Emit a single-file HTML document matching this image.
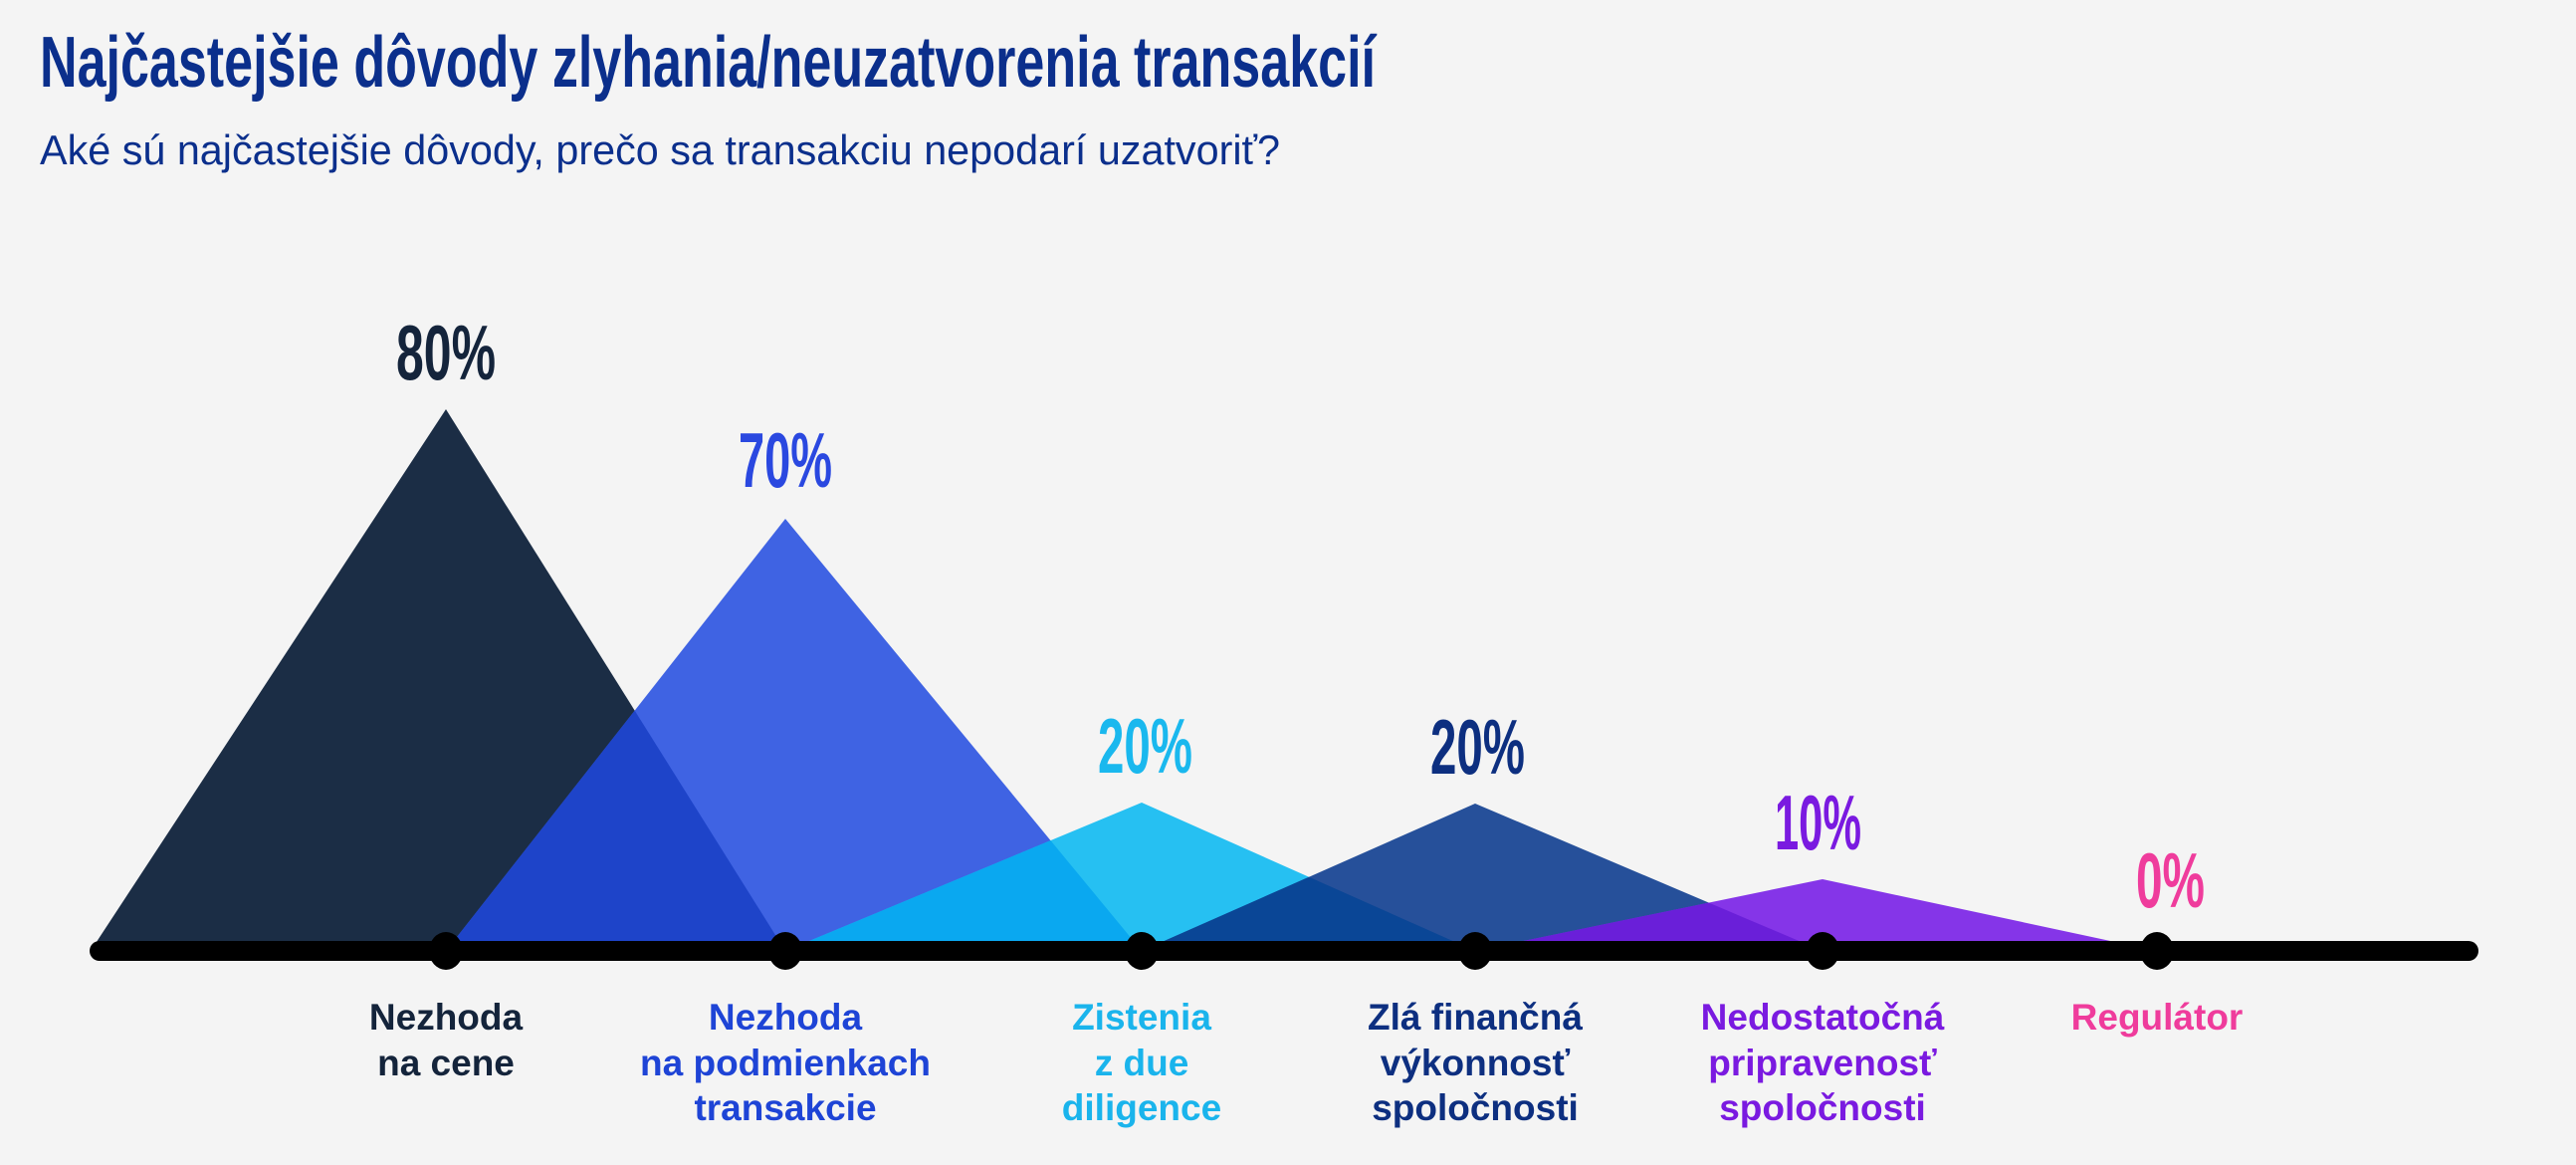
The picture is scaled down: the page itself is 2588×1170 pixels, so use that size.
<!DOCTYPE html>
<html><head><meta charset="utf-8"><style>html,body{margin:0;padding:0;background:#f4f4f4}svg{display:block}</style></head>
<body>
<svg width="2588" height="1170" viewBox="0 0 2588 1170" xmlns="http://www.w3.org/2000/svg" font-family="'Liberation Sans', sans-serif">
<rect width="2588" height="1170" fill="#f4f4f4"/>
<text x="40" y="87" font-size="72" font-weight="bold" fill="#0b2f8c" textLength="1342" lengthAdjust="spacingAndGlyphs">Najčastejšie dôvody zlyhania/neuzatvorenia transakcií</text>
<text x="40" y="165" font-size="42" fill="#0b2f8c" textLength="1246" lengthAdjust="spacingAndGlyphs">Aké sú najčastejšie dôvody, prečo sa transakciu nepodarí uzatvoriť?</text>
<defs>
<clipPath id="c1"><polygon points="91,955 448,411 789,955"/></clipPath>
<clipPath id="c2"><polygon points="448,955 789,521 1147,955"/></clipPath>
<clipPath id="c3"><polygon points="789,955 1147,806 1482,955"/></clipPath>
<clipPath id="c4"><polygon points="1147,955 1482,807 1831,955"/></clipPath>
</defs>
<polygon points="91,955 448,411 789,955" fill="#1b2d45"/>
<polygon points="448,955 789,521 1147,955" fill="#3f63e3"/>
<polygon points="448,955 789,521 1147,955" fill="#1e44c9" clip-path="url(#c1)"/>
<polygon points="789,955 1147,806 1482,955" fill="#26c0f2"/>
<polygon points="789,955 1147,806 1482,955" fill="#0aa8f0" clip-path="url(#c2)"/>
<polygon points="1147,955 1482,807 1831,955" fill="#26509a"/>
<polygon points="1147,955 1482,807 1831,955" fill="#0a4696" clip-path="url(#c3)"/>
<polygon points="1482,955 1831,883 2167,955" fill="#8535e8"/>
<polygon points="1482,955 1831,883 2167,955" fill="#6a1fd9" clip-path="url(#c4)"/>
<line x1="100" y1="955" x2="2480" y2="955" stroke="#000" stroke-width="20" stroke-linecap="round"/>
<g fill="#000">
<ellipse cx="448" cy="955" rx="17" ry="19"/><ellipse cx="789" cy="955" rx="17" ry="19"/><ellipse cx="1147" cy="955" rx="17" ry="19"/>
<ellipse cx="1482" cy="955" rx="17" ry="19"/><ellipse cx="1831" cy="955" rx="17" ry="19"/><ellipse cx="2167" cy="955" rx="17" ry="19"/>
</g>
<g font-weight="bold" font-size="78">
<text x="398" y="381" fill="#14243b" textLength="100" lengthAdjust="spacingAndGlyphs">80%</text>
<text x="742" y="489" fill="#2a48e0" textLength="94" lengthAdjust="spacingAndGlyphs">70%</text>
<text x="1103" y="776" fill="#1ab8ee" textLength="95" lengthAdjust="spacingAndGlyphs">20%</text>
<text x="1437" y="777" fill="#0d2f80" textLength="95" lengthAdjust="spacingAndGlyphs">20%</text>
<text x="1783" y="853" fill="#7a1ae0" textLength="87" lengthAdjust="spacingAndGlyphs">10%</text>
<text x="2146" y="911" fill="#ef3c9c" textLength="69" lengthAdjust="spacingAndGlyphs">0%</text>
</g>
<g font-weight="bold" font-size="37" text-anchor="middle">
<g fill="#14243b"><text x="448" y="1034">Nezhoda</text><text x="448" y="1080">na cene</text></g>
<g fill="#1e44d6"><text x="789" y="1034">Nezhoda</text><text x="789" y="1080">na podmienkach</text><text x="789" y="1125">transakcie</text></g>
<g fill="#1ab4ec"><text x="1147" y="1034">Zistenia</text><text x="1147" y="1080">z due</text><text x="1147" y="1125">diligence</text></g>
<g fill="#0d2f80"><text x="1482" y="1034">Zlá finančná</text><text x="1482" y="1080">výkonnosť</text><text x="1482" y="1125">spoločnosti</text></g>
<g fill="#7a1ae0"><text x="1831" y="1034">Nedostatočná</text><text x="1831" y="1080">pripravenosť</text><text x="1831" y="1125">spoločnosti</text></g>
<g fill="#ef3c9c"><text x="2167" y="1034">Regulátor</text></g>
</g>
</svg>
</body></html>
